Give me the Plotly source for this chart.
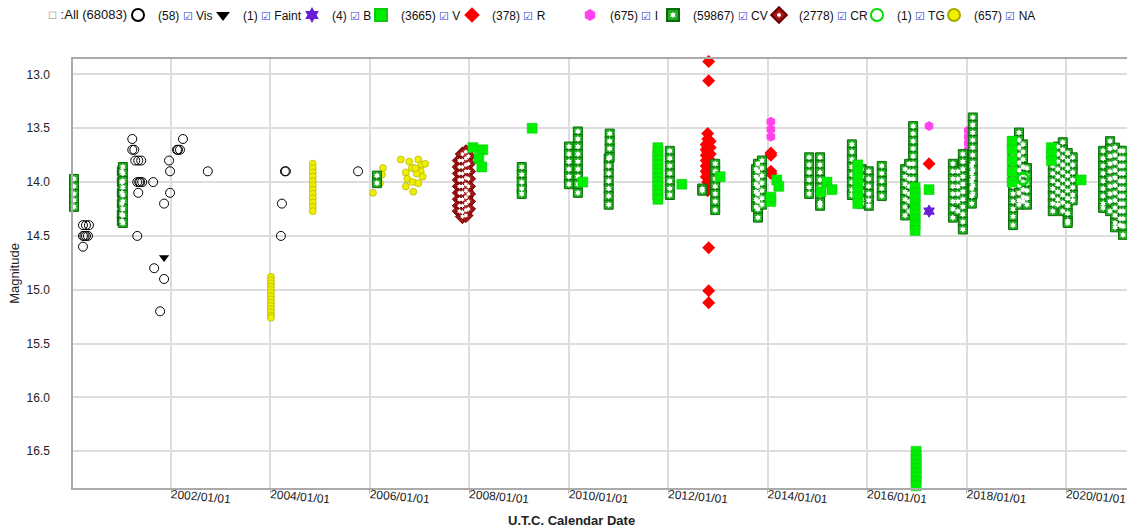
import plotly.graph_objects as go
from datetime import datetime

# ---------------- data (decimal year, magnitude) ----------------
vis_year = [2000.23, 2000.29, 2000.35, 2000.23, 2000.29, 2000.33, 2000.26, 2000.23,
            2001.22, 2001.22, 2001.26, 2001.28, 2001.34, 2001.40, 2001.32, 2001.36,
            2001.42, 2001.38, 2001.34, 2001.32, 2001.64, 2001.66, 2001.86, 2001.78,
            2001.86, 2001.98, 2001.98, 2001.96, 2002.12, 2002.14, 2002.18, 2002.24,
            2002.74, 2004.29, 2004.31, 2004.23, 2004.21, 2005.76]
vis_mag = [14.40, 14.40, 14.40, 14.50, 14.50, 14.50, 14.50, 14.60,
           13.60, 13.70, 13.70, 13.80, 13.80, 13.80, 14.00, 14.00,
           14.00, 14.00, 14.10, 14.50, 14.00, 14.80, 14.90, 15.20,
           14.20, 14.10, 13.90, 13.80, 13.70, 13.70, 13.70, 13.60,
           13.90, 13.90, 13.90, 14.20, 14.50, 13.90]

faint_year = [2001.86]
faint_mag = [14.70]

b_year = [2017.24, 2017.24]
b_mag = [14.27, 14.27]

v_year = [2008.07, 2008.27, 2008.19, 2008.25, 2009.26, 2010.28, 2012.27, 2013.04,
          2014.18, 2014.22, 2014.06, 2014.06, 2015.19, 2015.29, 2015.07, 2017.24,
          2020.30,
          2011.79, 2011.79, 2011.79, 2011.79, 2011.79, 2011.79, 2011.79, 2011.79,
          2011.79, 2011.79, 2011.79, 2011.79, 2011.79,
          2015.81, 2015.81, 2015.81, 2015.81, 2015.81, 2015.81, 2015.81,
          2016.96, 2016.96, 2016.96, 2016.96, 2016.96, 2016.96, 2016.96, 2016.96, 2016.96,
          2016.98, 2016.98, 2016.98, 2016.98, 2016.98, 2016.98, 2016.98, 2016.98,
          2016.98, 2016.98,
          2018.91, 2018.91, 2018.91, 2018.91, 2018.91,
          2019.70, 2019.70, 2019.70]
v_mag = [13.68, 13.70, 13.78, 13.86, 13.50, 14.00, 14.02, 13.95,
         13.98, 14.04, 14.18, 14.14, 14.00, 14.07, 14.09, 14.07,
         13.98,
         13.68, 13.72, 13.76, 13.80, 13.84, 13.88, 13.92, 13.96,
         14.00, 14.04, 14.08, 14.12, 14.16,
         13.84, 13.90, 13.96, 14.02, 14.08, 14.14, 14.20,
         14.05, 14.10, 14.15, 14.20, 14.25, 14.30, 14.35, 14.40, 14.45,
         16.50, 16.54, 16.58, 16.62, 16.66, 16.70, 16.74, 16.78,
         16.82, 16.86,
         13.62, 13.70, 13.80, 13.90, 14.00,
         13.68, 13.74, 13.80]

r_year = [2012.81, 2012.81, 2012.81,
          2012.79, 2012.79, 2012.79, 2012.79, 2012.79, 2012.79, 2012.79,
          2012.79, 2012.79, 2012.79, 2012.79, 2012.79, 2012.79, 2012.79,
          2012.76, 2012.76, 2012.76, 2012.76, 2012.76, 2012.76, 2012.76,
          2012.84, 2012.84, 2012.84, 2012.84, 2012.84, 2012.84,
          2012.81, 2012.81, 2012.81,
          2014.06, 2014.06, 2014.06, 2014.06, 2017.24]
r_mag = [12.85, 12.88, 13.06,
         13.55, 13.60, 13.64, 13.68, 13.72, 13.76, 13.80,
         13.84, 13.88, 13.92, 13.96, 14.00, 14.04, 14.08,
         13.65, 13.70, 13.75, 13.80, 13.85, 13.90, 13.95,
         13.62, 13.68, 13.74, 13.80, 13.86, 13.92,
         14.61, 15.01, 15.12,
         13.73, 13.75, 13.90, 13.92, 13.83]

i_year = [2014.06, 2014.06, 2014.06, 2017.24,
          2018.03, 2018.03, 2018.03, 2018.03, 2018.03, 2018.03]
i_mag = [13.44, 13.51, 13.58, 13.48,
         13.52, 13.58, 13.64, 13.70, 13.76, 13.82]

cv_stacks = [
    (2000.05, [13.97, 14.04, 14.11, 14.17, 14.23]),
    (2001.01, [13.90, 14.00, 14.10, 14.20, 14.30, 14.36]),
    (2001.03, [13.86, 13.92, 13.99, 14.05, 14.12, 14.18, 14.25, 14.31, 14.38]),
    (2006.14, [13.94, 14.01]),
    (2009.05, [13.86, 13.93, 14.00, 14.06, 14.11]),
    (2010.00, [13.67, 13.74, 13.81, 13.88, 13.95, 14.02]),
    (2010.18, [13.53, 13.60, 13.67, 13.74, 13.81, 13.88, 13.95, 14.02, 14.10]),
    (2010.80, [13.78, 13.85, 13.92, 13.99, 14.06, 14.13, 14.21]),
    (2010.82, [13.55, 13.62, 13.69, 13.77]),
    (2012.03, [13.71, 13.78, 13.85, 13.92, 13.99, 14.06, 14.12]),
    (2012.68, [14.06, 14.08]),
    (2012.94, [13.83, 13.90, 13.97, 14.04, 14.11, 14.18, 14.26]),
    (2013.76, [13.88, 13.95, 14.02, 14.09, 14.16, 14.23]),
    (2013.80, [13.83, 13.90, 13.97, 14.04, 14.11, 14.18, 14.25, 14.33]),
    (2013.88, [13.80, 13.87, 13.94, 14.01, 14.08, 14.15, 14.21]),
    (2014.83, [13.77, 13.84, 13.91, 13.98, 14.05, 14.11]),
    (2015.05, [13.77, 13.84, 13.91, 13.98, 14.05, 14.12, 14.19, 14.22]),
    (2015.69, [13.65, 13.72, 13.79, 13.86, 13.93, 14.00, 14.07, 14.12]),
    (2015.89, [13.88, 13.95, 14.02, 14.09, 14.16, 14.20]),
    (2016.03, [13.90, 13.97, 14.04, 14.11, 14.17, 14.22]),
    (2016.29, [13.85, 13.92, 13.99, 14.06, 14.13]),
    (2016.76, [13.88, 13.95, 14.02, 14.09, 14.16, 14.23, 14.31]),
    (2016.84, [13.83, 13.90, 13.97, 14.04, 14.11, 14.18, 14.27]),
    (2016.92, [13.48, 13.55, 13.62, 13.69, 13.76, 13.83, 13.90, 13.97, 14.04, 14.11, 14.18, 14.27]),
    (2017.72, [13.83, 13.90, 13.97, 14.04, 14.11, 14.18, 14.25, 14.33]),
    (2017.82, [13.90, 13.97, 14.04, 14.11, 14.18, 14.27]),
    (2017.92, [13.74, 13.81, 13.88, 13.95, 14.02, 14.09, 14.16, 14.23, 14.30, 14.37, 14.44]),
    (2018.10, [13.85, 13.92, 13.99, 14.06, 14.13, 14.20]),
    (2018.12, [13.40, 13.47, 13.54, 13.61, 13.68, 13.75, 13.82, 13.89, 13.96, 14.03, 14.11]),
    (2018.93, [13.62, 13.69, 13.76, 13.83, 13.90, 13.97, 14.04, 14.11, 14.18, 14.25, 14.32, 14.40]),
    (2019.05, [13.54, 13.61, 13.68, 13.75, 13.82, 13.89, 13.96, 14.03, 14.10, 14.17, 14.21]),
    (2019.13, [13.65, 13.72, 13.79, 13.86, 13.93, 14.00, 14.07, 14.14, 14.18]),
    (2019.21, [13.87, 13.94, 14.01, 14.08, 14.15, 14.21]),
    (2019.73, [13.71, 13.78, 13.85, 13.92, 13.99, 14.06, 14.13, 14.20, 14.27]),
    (2019.83, [13.67, 13.74, 13.81, 13.88, 13.95, 14.02, 14.09, 14.16, 14.21]),
    (2019.93, [13.63, 13.70, 13.77, 13.84, 13.91, 13.98, 14.05, 14.12, 14.19, 14.27]),
    (2020.03, [13.73, 13.80, 13.87, 13.94, 14.01, 14.08, 14.15, 14.22, 14.29, 14.36, 14.38]),
    (2020.13, [13.77, 13.84, 13.91, 13.98, 14.05, 14.12, 14.17]),
    (2020.74, [13.71, 13.78, 13.85, 13.92, 13.99, 14.06, 14.13, 14.20, 14.24]),
    (2020.88, [13.62, 13.69, 13.76, 13.83, 13.90, 13.97, 14.04, 14.11, 14.18, 14.27]),
    (2020.98, [13.68, 13.75, 13.82, 13.89, 13.96, 14.03, 14.10, 14.17, 14.24, 14.31, 14.38, 14.42]),
    (2021.08, [13.71, 13.78, 13.85, 13.92, 13.99, 14.06, 14.13, 14.20, 14.27, 14.34, 14.40]),
    (2021.14, [13.71, 13.78, 13.85, 13.92, 13.99, 14.06, 14.13, 14.20, 14.27, 14.34, 14.41, 14.49]),
]

cr_stacks = [
    (2007.80, [13.80, 13.86, 13.92, 13.98, 14.04, 14.10, 14.16, 14.22, 14.27]),
    (2007.86, [13.74, 13.80, 13.86, 13.92, 13.98, 14.04, 14.10, 14.16, 14.22, 14.28, 14.32]),
    (2007.93, [13.72, 13.78, 13.84, 13.90, 13.96, 14.02, 14.08, 14.14, 14.20, 14.26, 14.31]),
    (2007.98, [13.76, 13.83, 13.90, 13.97, 14.04, 14.11, 14.18, 14.25]),
]

tg_year = [2019.13]
tg_mag = [13.97]

na_year = [2004.01] * 14 + [2004.85] * 12 + [
    2006.06, 2006.26, 2006.24, 2006.20, 2006.62, 2006.79, 2006.84, 2006.72,
    2006.75, 2006.72, 2006.87, 2006.86, 2006.97, 2007.04, 2007.11, 2007.02,
    2007.06, 2006.94, 2006.97, 2006.91, 2007.74]
na_mag = [14.88, 14.91, 14.94, 14.97, 15.00, 15.03, 15.06, 15.09, 15.12, 15.15, 15.18, 15.21, 15.24, 15.26,
          13.83, 13.87, 13.91, 13.95, 13.99, 14.03, 14.07, 14.11, 14.15, 14.19, 14.23, 14.27,
          14.10, 13.87, 13.93, 14.01, 13.79, 13.81, 13.87, 13.91,
          13.97, 14.04, 14.09, 14.00, 13.79, 13.84, 13.83, 13.90,
          13.95, 13.92, 14.01, 13.87, 13.86]

counts = {"Vis": 58, "Faint": 1, "B": 4, "V": 3665, "R": 378, "I": 675,
          "CV": 59867, "CR": 2778, "TG": 1, "NA": 657}
total_count = 68083


def to_date(v):
    y = int(v)
    start, end = datetime(y, 1, 1), datetime(y + 1, 1, 1)
    return start + (end - start) * (v - y)


def dates(years):
    return [to_date(v) for v in years]


def flatten(stacks):
    ys, ms = [], []
    for yv, mags in stacks:
        for m in mags:
            ys.append(yv)
            ms.append(m)
    return ys, ms


cv_year, cv_mag = flatten(cv_stacks)
cr_year, cr_mag = flatten(cr_stacks)

FONT = "Liberation Sans, Arial, sans-serif"
CHECK = '<span style="color:#3a3ad0;font-size:11px">☑</span>'


def label(name):
    return f"({counts[name]}) {CHECK} {name}"


# layout geometry (px)
W, H = 1127, 531
ML, MR, MT, MB = 73, 0, 59, 43
PW, PH = W - ML - MR, H - MT - MB


def px_x(px):
    return (px - ML) / PW


def px_y(py):
    return (H - MB - py) / PH


legend_center_px = {"Vis": 145, "Faint": 230, "B": 319, "V": 388, "R": 479,
                    "I": 597, "CV": 680, "CR": 786, "TG": 884, "NA": 961}
legend_ids = {"Vis": "legend", "Faint": "legend2", "B": "legend3", "V": "legend4",
              "R": "legend5", "I": "legend6", "CV": "legend7", "CR": "legend8",
              "TG": "legend9", "NA": "legend10", "CVo": "legend11", "CRo": "legend12"}

fig = go.Figure()


def add(name, years, mags, marker):
    fig.add_trace(go.Scatter(
        x=dates(years), y=mags, mode="markers", name=label(name),
        marker=marker, showlegend=True, legend=legend_ids[name], cliponaxis=False))


add("Vis", vis_year, vis_mag, dict(symbol="circle-open", size=9, color="black", line=dict(width=1)))
add("Faint", faint_year, faint_mag, dict(symbol="triangle-down", size=9, color="black"))
add("NA", na_year, na_mag, dict(symbol="circle", size=7, color="#eeee00", line=dict(color="#a8a800", width=0.6)))
add("I", i_year, i_mag, dict(symbol="hexagon", size=10, color="#ff44ee", line=dict(width=0)))
add("R", r_year, r_mag, dict(symbol="diamond", size=10, color="#ff0000", line=dict(width=0)))
add("CR", cr_year, cr_mag, dict(symbol="diamond", size=11, color="#a31515", line=dict(color="#6b0000", width=1)))
fig.add_trace(go.Scatter(x=dates(cr_year), y=cr_mag, mode="markers", name=" ", cliponaxis=False,
                         marker=dict(symbol="hexagram", size=4, color="white", line=dict(width=0)),
                         showlegend=True, legend=legend_ids["CRo"], hoverinfo="skip"))
add("CV", cv_year, cv_mag, dict(symbol="square", size=9, color="#1fae1f", line=dict(color="#0a6a0a", width=1)))
fig.add_trace(go.Scatter(x=dates(cv_year), y=cv_mag, mode="markers", name=" ", cliponaxis=False,
                         marker=dict(symbol="hexagram", size=5, color="white", line=dict(width=0)),
                         showlegend=True, legend=legend_ids["CVo"], hoverinfo="skip"))
add("V", v_year, v_mag, dict(symbol="square", size=10, color="#00ee00", line=dict(color="#10c810", width=0.5)))
add("B", b_year, b_mag, dict(symbol="hexagram", size=10, color="#6a1fd6", line=dict(width=0)))
add("TG", tg_year, tg_mag, dict(symbol="circle-open", size=11, color="#00dd00", line=dict(width=3)))

layout_legends = {}
for key, lid in legend_ids.items():
    overlay = key.endswith("o")
    base = key[:-1] if overlay else key
    cx = legend_center_px[base]
    layout_legends[lid] = dict(
        x=(cx - 27) / W, y=1 - 15 / H, xref="container", yref="container",
        xanchor="left", yanchor="middle", orientation="h",
        bgcolor="rgba(0,0,0,0)", borderwidth=0,
        itemsizing="trace" if overlay else "constant",
        font=dict(family=FONT, size=12, color="#111"),
        itemwidth=30, tracegroupgap=0)

fig.update_layout(
    width=W, height=H,
    margin=dict(l=ML, r=MR, t=MT, b=MB),
    paper_bgcolor="white", plot_bgcolor="white",
    font=dict(family=FONT, size=12, color="#222"),
    **layout_legends,
    xaxis=dict(
        type="date",
        range=[to_date(2000.03), to_date(2021.22)],
        tick0="2002-01-01", dtick="M24", tickformat="%Y/%m/%d",
        tickangle=5, ticks="outside", ticklen=4, tickcolor="#bbbbbb",
        ticklabelstandoff=-10,
        showgrid=True, gridcolor="#dddddd", gridwidth=1.5,
        showline=True, linecolor="#aaaaaa", linewidth=1.5, mirror=True,
        zeroline=False, tickfont=dict(size=12, color="#222"),
    ),
    yaxis=dict(
        autorange=False, range=[16.841, 12.857],
        tick0=13.0, dtick=0.5, tickformat=".1f",
        ticks="", ticklabelstandoff=19,
        showgrid=True, gridcolor="#dddddd", gridwidth=1.5,
        showline=True, linecolor="#aaaaaa", linewidth=1.5,
        zeroline=False, tickfont=dict(size=12, color="#222"),
        title=dict(text="Magnitude", font=dict(size=13, color="#222"), standoff=4),
    ),
    annotations=[
        dict(text='<span style="color:#888;font-size:10px">☐</span> :All (' + str(total_count) + ')',
             x=px_x(46), y=px_y(15), xref="paper", yref="paper",
             xanchor="left", yanchor="middle", showarrow=False,
             font=dict(family=FONT, size=13, color="#111")),
        dict(text="<b>U.T.C. Calendar Date</b>",
             x=px_x(571), y=px_y(520), xref="paper", yref="paper",
             xanchor="center", yanchor="middle", showarrow=False,
             font=dict(family=FONT, size=13, color="#222")),
    ],
)

fig.write_html("out.html", config={"displayModeBar": False},
               post_script="document.body.style.margin='0';document.body.style.overflow='hidden';")
